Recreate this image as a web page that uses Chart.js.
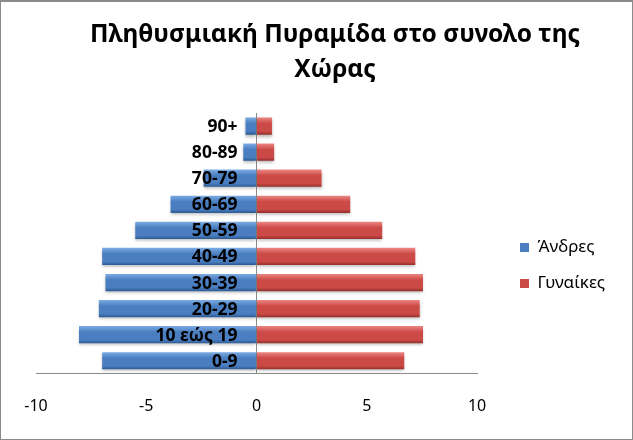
<!DOCTYPE html>
<html>
<head>
<meta charset="utf-8">
<script src="https://cdn.jsdelivr.net/npm/chart.js@4.4.1/dist/chart.umd.min.js"></script>
<style>
  html, body { margin: 0; padding: 0; background: #fff; }
  #wrap { position: relative; width: 633px; height: 440px; box-shadow: inset 0 0 0 1px #8a8a8a, inset 0 1px 0 1px #8a8a8a; }
</style>
</head>
<body>
<div id="wrap"><canvas id="pyramid" width="633" height="440"></canvas></div>
<script>
const categories = ['0-9', '10 εώς 19', '20-29', '30-39', '40-49', '50-59', '60-69', '70-79', '80-89', '90+'];
const men = [-7.0, -8.05, -7.15, -6.85, -7.0, -5.5, -3.9, -2.4, -0.6, -0.5];
const women = [6.7, 7.55, 7.4, 7.55, 7.2, 5.7, 4.25, 2.95, 0.8, 0.7];
const xTicks = [-10, -5, 0, 5, 10];
const titleLines = ['Πληθυσμιακή Πυραμίδα στο συνολο της', 'Χώρας'];

const FONT = '"Noto Sans", "DejaVu Sans", sans-serif';
const BLUE = '#4a7ec0';
const RED = '#cc4a46';

// vertical gradient per bar, a rough copy of the excel bevel look
function barFill(light, base, dark) {
    return (ctx) => {
        const chart = ctx.chart;
        const y = chart.scales.y;
        if (!chart.chartArea || !y || ctx.dataIndex === undefined) return base;
        const mid = y.getPixelForValue(ctx.dataIndex);
        const half = y.height / categories.length * 0.66 / 2;
        const g = chart.ctx.createLinearGradient(0, mid - half, 0, mid + half);
        g.addColorStop(0, light);
        g.addColorStop(0.35, base);
        g.addColorStop(0.8, base);
        g.addColorStop(1, dark);
        return g;
    };
}

// soft drop shadow under the bars
const barShadow = {
    id: 'barShadow',
    beforeDatasetsDraw(chart) {
        const c = chart.ctx;
        c.save();
        c.shadowColor = 'rgba(0,0,0,0.28)';
        c.shadowBlur = 3;
        c.shadowOffsetY = 2;
    },
    afterDatasetsDraw(chart) {
        chart.ctx.restore();
    }
};

const titlePlugin = {
    id: 'twoLineTitle',
    afterDraw(chart) {
        const c = chart.ctx;
        c.save();
        c.font = 'bold 24.5px ' + FONT;
        c.fillStyle = '#000';
        c.textAlign = 'center';
        c.textBaseline = 'middle';
        titleLines.forEach((t, i) => c.fillText(t, 335, 35 + i * 35));
        c.restore();
    }
};

// category labels sit on the zero line, over the bars
const ageLabels = {
    id: 'ageLabels',
    afterDatasetsDraw(chart) {
        const { ctx, scales: { x, y } } = chart;
        const right = x.getPixelForValue(0) - 19;
        ctx.save();
        ctx.shadowColor = 'rgba(0,0,0,0)';
        ctx.font = 'bold 17.5px ' + FONT;
        ctx.fillStyle = '#000';
        ctx.textAlign = 'right';
        ctx.textBaseline = 'middle';
        y.getLabels().forEach((lab, i) => ctx.fillText(lab, right, y.getPixelForValue(i) + 1));
        ctx.restore();
    }
};

const config = {
    type: 'bar',
    data: {
        labels: categories,
        datasets: [{
            label: 'Άνδρες',
            data: men,
            backgroundColor: barFill('#7cabe3', BLUE, '#2d5a92'),
            borderWidth: 0,
            categoryPercentage: 1,
            barPercentage: 0.66
        }, {
            label: 'Γυναίκες',
            data: women,
            backgroundColor: barFill('#ec8683', RED, '#94302d'),
            borderWidth: 0,
            categoryPercentage: 1,
            barPercentage: 0.66
        }]
    },
    options: {
        indexAxis: 'y',
        responsive: false,
        animation: false,
        layout: {
            padding: { left: 36, right: 18, top: 113, bottom: 1 }
        },
        scales: {
            x: {
                type: 'linear',
                min: -10,
                max: 10,
                stacked: true,
                afterBuildTicks: (scale) => {
                    scale.ticks = xTicks.map(v => ({ value: v }));
                },
                grid: {
                    drawTicks: false,
                    color: (ctx) => ctx.tick && ctx.tick.value === 0 ? '#8a8a8a' : 'rgba(0,0,0,0)'
                },
                border: { display: true, color: '#8a8a8a' },
                ticks: {
                    color: '#000',
                    padding: 23,
                    font: { family: FONT, size: 16 }
                }
            },
            // the category axis sits on the right and only keeps the legend away from the bars
            y: {
                type: 'category',
                reverse: true,
                stacked: true,
                position: 'right',
                grid: { display: false, drawTicks: false },
                border: { display: false },
                ticks: { display: false },
                afterFit: (scale) => { scale.width = 24; }
            }
        },
        plugins: {
            title: { display: false },
            tooltip: { enabled: false },
            legend: {
                position: 'right',
                align: 'start',
                // blank title only used as a spacer to drop the items to mid height
                title: {
                    display: true,
                    text: ' ',
                    font: { size: 10, lineHeight: 1 },
                    padding: { top: 97, bottom: 0 }
                },
                labels: {
                    color: '#000',
                    boxWidth: 9,
                    boxHeight: 9,
                    padding: 19,
                    font: { family: FONT, size: 17 },
                    generateLabels: (chart) => {
                        const items = Chart.defaults.plugins.legend.labels.generateLabels(chart);
                        const flat = [BLUE, RED];
                        items.forEach((it, i) => {
                            it.fillStyle = flat[i];
                            it.strokeStyle = flat[i];
                            it.lineWidth = 0;
                        });
                        return items;
                    }
                }
            }
        }
    },
    plugins: [barShadow, titlePlugin, ageLabels]
};

new Chart(document.getElementById('pyramid'), config);
</script>
</body>
</html>
